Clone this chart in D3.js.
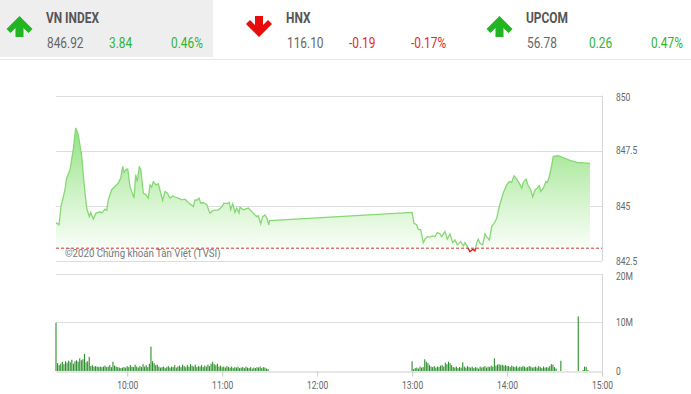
<!DOCTYPE html>
<html>
<head>
<meta charset="utf-8">
<script src="https://cdn.jsdelivr.net/npm/d3@7"></script>
<style>
body { margin: 0; background: #fff; }
svg { display: block; font-family: Roboto, "Noto Sans", sans-serif; }
</style>
</head>
<body>
<svg id="chart" width="691" height="394"></svg>
<script>
// header indices
const indexNames = ["VN INDEX", "HNX", "UPCOM"];
const indexValues = ["846.92", "116.10", "56.78"];
const indexChanges = ["3.84", "-0.19", "0.26"];
const indexPcts = ["0.46%", "-0.17%", "0.47%"];
const indexUp = [true, false, true];

// intraday VN-Index
const refPrice = 843.08;
const priceTimes = [
	"09:15:00", "09:16:54", "09:18:10", "09:20:40", "09:21:46", "09:23:51", "09:25:56", "09:27:27",
	"09:29:05", "09:31:14", "09:32:53", "09:34:24", "09:36:02", "09:36:56", "09:38:34", "09:40:16",
	"09:42:48", "09:43:53", "09:45:58", "09:47:02", "09:48:03", "09:50:12", "09:54:22", "09:55:53",
	"09:57:09", "09:57:58", "09:59:14", "10:00:18", "10:01:46", "10:04:17", "10:05:22", "10:06:22",
	"10:07:38", "10:08:31", "10:10:10", "10:11:52", "10:13:19", "10:14:24", "10:15:28", "10:16:29",
	"10:18:11", "10:19:38", "10:21:10", "10:22:25", "10:23:52", "10:25:20", "10:27:02", "10:28:44",
	"10:30:11", "10:32:17", "10:34:26", "10:36:31", "10:38:36", "10:41:46", "10:42:50", "10:43:54",
	"10:45:22", "10:46:26", "10:48:04", "10:50:13", "10:52:18", "10:54:23", "10:57:33", "10:59:42",
	"11:01:09", "11:03:14", "11:04:30", "11:05:23", "11:06:39", "11:08:06", "11:09:11", "11:10:38",
	"11:11:16", "11:13:21", "11:16:31", "11:19:40", "11:21:49", "11:22:50", "11:24:21", "11:25:37",
	"11:27:04", "11:28:31", "11:29:24", "11:30:00",
	"13:00:00", "13:01:12", "13:02:54", "13:03:54", "13:05:27", "13:07:05", "13:08:10", "13:09:36",
	"13:11:18", "13:13:00", "13:14:28", "13:15:55", "13:17:36", "13:18:42", "13:20:48", "13:22:12",
	"13:23:58", "13:25:40", "13:27:06", "13:28:36", "13:30:42", "13:32:24", "13:33:24", "13:34:54",
	"13:36:36", "13:38:18", "13:39:42", "13:40:48", "13:41:48", "13:42:54", "13:44:36", "13:46:04",
	"13:47:06", "13:48:48", "13:50:18", "13:51:48", "13:53:30", "13:55:06", "13:57:36", "13:59:48",
	"14:01:24", "14:02:54", "14:04:24", "14:06:06", "14:07:42", "14:09:18", "14:10:18", "14:12:00",
	"14:13:24", "14:14:57", "14:16:12", "14:17:42", "14:19:06", "14:20:24", "14:21:18", "14:22:54",
	"14:24:36", "14:25:24", "14:26:42", "14:28:12", "14:29:12", "14:32:24", "14:34:30", "14:39:48",
	"14:44:00", "14:52:24"
];
const priceValues = [
	844.24, 844.14, 844.97, 845.73, 846.26, 846.64, 847.55, 848.53,
	848.23, 847.24, 845.88, 844.89, 844.51, 844.70, 844.40, 844.67,
	844.73, 844.67, 844.85, 844.80, 845.27, 845.73, 846.03, 846.26,
	846.79, 846.51, 846.64, 846.67, 845.88, 845.35, 846.41, 846.10,
	846.76, 846.67, 845.58, 845.50, 845.35, 845.95, 845.85, 846.10,
	845.95, 846.00, 845.58, 845.24, 845.65, 845.58, 845.35, 845.45,
	845.40, 845.35, 845.27, 845.30, 845.15, 844.97, 845.27, 845.25,
	845.35, 845.12, 845.15, 845.05, 844.67, 844.79, 844.82, 844.94,
	845.12, 845.10, 845.15, 844.82, 845.09, 844.70, 844.90, 844.67,
	844.94, 844.82, 844.90, 844.67, 844.51, 844.55, 844.18, 844.51,
	844.59, 844.40, 844.14, 844.33,
	844.70, 844.21, 844.14, 843.94, 843.91, 843.33, 843.49, 843.60,
	843.58, 843.64, 843.60, 843.79, 843.73, 843.60, 843.83, 843.49,
	843.73, 843.33, 843.45, 843.23, 843.38, 843.18, 843.33, 843.15,
	842.92, 843.03, 842.96, 843.30, 843.49, 843.30, 843.23, 843.73,
	843.60, 843.45, 844.06, 844.21, 844.44, 844.97, 845.58, 845.95,
	846.10, 846.06, 846.36, 846.21, 846.03, 845.80, 846.06, 846.21,
	845.91, 845.73, 845.40, 845.73, 845.80, 845.91, 845.65, 845.80,
	846.10, 846.06, 846.33, 846.82, 847.24, 847.27, 847.21, 847.06,
	846.97, 846.92
];

// volume per minute, millions of shares
const volStartAM = "09:15:00";
const volAM = [
	9.9,
	1.6, 1.2, 1.5, 1.9, 1.4, 2.0, 1.7, 2.1, 1.8, 2.3, 1.5, 2.0, 2.2,
	1.9, 2.6, 2.2, 2.4, 3.5, 1.8, 2.0, 2.9,
	1.0, 1.2, 0.9, 1.0, 0.9, 0.8, 0.9, 0.8, 0.9, 1.1, 0.8, 0.9, 1.2, 0.8,
	1.9,
	1.1, 0.9, 0.8, 0.7, 0.6, 0.7, 0.8, 0.7, 1.0, 0.8, 1.2, 0.9, 0.8, 1.3, 0.9, 0.7, 1.0, 0.8, 1.4, 0.9, 1.2, 0.8, 1.5,
	5.0,
	2.0, 1.6, 1.2, 1.3, 0.9, 0.7, 0.8, 0.9, 0.6, 0.8,
	1.0, 0.7, 0.9, 0.8, 1.2, 0.7, 0.9, 1.1, 0.8, 1.3, 1.0, 0.8, 1.2, 0.9, 1.4, 1.1, 0.9, 1.3, 0.8, 1.0,
	0.9, 1.2, 0.8, 1.1, 0.9, 1.3, 1.0, 1.5,
	1.9,
	1.4, 1.2, 1.5, 0.9, 1.1, 0.8, 0.9, 0.7, 1.0, 0.8, 0.7, 0.9, 0.6, 0.8, 0.7, 0.9, 0.6, 0.7, 0.8, 0.6,
	0.9, 0.7, 0.6, 0.8, 0.5, 0.7, 0.6, 0.8, 0.7, 0.9, 0.6, 0.8, 0.7, 0.5, 0.4
];
const volStartPM = "13:00:00";
const volPM = [
	2.0, 0.4, 0.6, 0.7, 0.5, 0.9, 0.7, 0.8,
	2.4, 1.9, 1.6, 1.2,
	0.9, 0.8, 1.0, 0.7, 0.9, 0.8, 1.1,
	1.2, 0.9, 1.7, 1.4, 1.9, 1.6, 1.2,
	0.8, 0.7, 0.9, 0.6, 0.8, 0.7,
	1.8,
	0.9, 0.7, 1.0, 0.8, 0.7, 0.9, 0.6, 0.8, 0.7, 0.5, 0.9, 0.7, 0.8, 1.0, 0.7, 0.9, 0.8, 1.1, 0.9,
	2.6,
	1.1, 1.3, 1.4, 1.2, 1.3, 1.1, 1.2, 1.0,
	1.0, 0.8, 1.1, 0.9, 0.8, 1.0, 0.7, 0.9, 0.8, 1.0, 0.9, 0.7, 0.8, 1.0, 0.9, 0.7, 0.8, 0.9, 0.7, 1.0,
	0.8, 0.6, 0.9, 0.7, 0.8, 0.7, 1.0,
	1.4, 1.3, 0.8, 0.5, 0, 0,
	2.1,
	0, 0, 0, 0, 0, 0, 0, 0, 0, 0,
	11.2,
	0, 0, 0.2, 0.9, 0.8, 0.2
];

const priceTicks = [842.5, 845, 847.5, 850];
const volTicks = [0, 10, 20];
const volTickLabels = ["0", "10M", "20M"];
const hourTicks = ["10:00:00", "11:00:00", "12:00:00", "13:00:00", "14:00:00", "15:00:00"];

const SX = 0.85; // text looks horizontally squeezed in the source
const GREEN = "#2fb52f", RED = "#e02b2b";

const svg = d3.select("#chart");
const parse = d3.timeParse("%H:%M:%S");

// ---------- header ----------
svg.append("rect")
	.attr("x", 0).attr("y", 0).attr("width", 213).attr("height", 57)
	.attr("fill", "#eeeeee");
svg.append("line")
	.attr("x1", 0).attr("x2", 691).attr("y1", 59.5).attr("y2", 59.5)
	.attr("stroke", "#e6e6e6");

function sqText(g, x, y, txt) {
	return g.append("text")
		.attr("transform", `translate(${x},${y}) scale(${SX},1)`)
		.text(txt);
}

const upArrow = "M0,0 L13,13 L9,17 L4,12 L4,21 L-4,21 L-4,12 L-9,17 L-13,13 Z";

indexNames.forEach((name, i) => {
	const g = svg.append("g").attr("transform", `translate(${i * 240},0)`);
	const col = indexUp[i] ? GREEN : RED;
	g.append("path")
		.attr("d", upArrow)
		.attr("fill", indexUp[i] ? "#22b422" : "#e80c0c")
		.attr("transform", indexUp[i] ? "translate(19.5,16)" : "translate(19,37) scale(1,-1)");
	sqText(g, 46, 23, name)
		.attr("font-size", 14).attr("font-weight", "bold").attr("fill", "#555");
	sqText(g, 47, 48, indexValues[i]).attr("font-size", 14).attr("fill", "#666");
	sqText(g, 109, 48, indexChanges[i]).attr("font-size", 14).attr("fill", col);
	sqText(g, 171, 48, indexPcts[i]).attr("font-size", 14).attr("fill", col);
});

// ---------- scales ----------
const x = d3.scaleTime()
	.domain([parse("09:15:00"), parse("15:00:00")])
	.range([56, 602]);
const yP = d3.scaleLinear().domain([842.5, 850]).range([261, 95.5]);
const yV = d3.scaleLinear().domain([0, 20]).range([371, 273.5]);

const priceData = priceTimes.map((t, i) => ({ t: parse(t), v: priceValues[i] }));

// ---------- price panel ----------
const gP = svg.append("g");
gP.selectAll(".pgrid")
	.data(priceTicks)
	.enter().append("line")
	.attr("x1", 56).attr("x2", 602)
	.attr("y1", (d) => Math.round(yP(d)) + 0.5)
	.attr("y2", (d) => Math.round(yP(d)) + 0.5)
	.attr("stroke", "#dddddd");
gP.append("line")
	.attr("x1", 602.5).attr("x2", 602.5)
	.attr("y1", yP(850)).attr("y2", yP(842.5))
	.attr("stroke", "#d6d6d6");

const defs = svg.append("defs");
const grad = defs.append("linearGradient")
	.attr("id", "areaFill")
	.attr("gradientUnits", "userSpaceOnUse")
	.attr("x1", 0).attr("x2", 0)
	.attr("y1", yP(848.5)).attr("y2", yP(842.7));
grad.append("stop").attr("offset", 0).attr("stop-color", "#93e283");
grad.append("stop").attr("offset", 0.55).attr("stop-color", "#d3f4cb");
grad.append("stop").attr("offset", 1).attr("stop-color", "#ffffff");

defs.append("clipPath").attr("id", "aboveRef")
	.append("rect").attr("x", 0).attr("y", 0).attr("width", 691).attr("height", yP(refPrice));
defs.append("clipPath").attr("id", "belowRef")
	.append("rect").attr("x", 0).attr("y", yP(refPrice)).attr("width", 691).attr("height", 60);

const area = d3.area()
	.x((d) => x(d.t))
	.y0(yP(842.5))
	.y1((d) => yP(d.v));
const line = d3.line()
	.x((d) => x(d.t))
	.y((d) => yP(d.v));

gP.append("path").datum(priceData)
	.attr("d", area)
	.attr("fill", "url(#areaFill)");

gP.append("path").datum(priceData)
	.attr("d", line)
	.attr("fill", "none")
	.attr("stroke", "#86d874")
	.attr("stroke-width", 1.3)
	.attr("clip-path", "url(#aboveRef)");
gP.append("path").datum(priceData)
	.attr("d", line)
	.attr("fill", "none")
	.attr("stroke", "#e01010")
	.attr("stroke-width", 1.3)
	.attr("clip-path", "url(#belowRef)");

gP.append("line")
	.attr("x1", 56).attr("x2", 602)
	.attr("y1", yP(refPrice)).attr("y2", yP(refPrice))
	.attr("stroke", "#cc2222")
	.attr("stroke-width", 0.9)
	.attr("stroke-dasharray", "3,2");

sqText(gP, 65, 257, "©2020 Chứng khoán Tân Việt (TVSI)")
	.attr("font-size", 11.4).attr("fill", "#777");

const yAxisP = gP.append("g")
	.attr("transform", "translate(602,0)")
	.call(d3.axisRight(yP).tickValues(priceTicks).tickSize(0).tickFormat((d) => String(d)));
yAxisP.select(".domain").remove();
yAxisP.selectAll("text")
	.attr("x", 0)
	.attr("transform", (d) => `translate(14,${d === 850 ? 2 : 0}) scale(${SX},1)`)
	.attr("font-size", 10)
	.attr("font-family", "Roboto, sans-serif")
	.attr("fill", "#666");

// ---------- volume panel ----------
const gV = svg.append("g");
gV.selectAll(".vgrid")
	.data(volTicks.slice(1))
	.enter().append("line")
	.attr("x1", 56).attr("x2", 602)
	.attr("y1", (d) => Math.round(yV(d)) + 0.5)
	.attr("y2", (d) => Math.round(yV(d)) + 0.5)
	.attr("stroke", "#dddddd");
gV.append("line")
	.attr("x1", 602.5).attr("x2", 602.5)
	.attr("y1", yV(20)).attr("y2", yV(0))
	.attr("stroke", "#d6d6d6");

const volData = [];
volAM.forEach((v, i) => {
	if (v > 0) volData.push({ t: d3.timeMinute.offset(parse(volStartAM), i), v: v });
});
volPM.forEach((v, i) => {
	if (v > 0) volData.push({ t: d3.timeMinute.offset(parse(volStartPM), i), v: v });
});

gV.selectAll(".vbar")
	.data(volData)
	.enter().append("rect")
	.attr("class", "vbar")
	.attr("x", (d) => x(d.t) - 0.55)
	.attr("width", 1.1)
	.attr("y", (d) => yV(d.v))
	.attr("height", (d) => yV(0) - yV(d.v))
	.attr("fill", "#2e8f2e");

const xAxis = gV.append("g")
	.attr("transform", `translate(0,${Math.round(yV(0)) + 0.5})`)
	.call(d3.axisBottom(x)
		.tickValues(hourTicks.map(parse))
		.tickSize(5)
		.tickSizeOuter(0)
		.tickPadding(5)
		.tickFormat(d3.timeFormat("%H:%M")));
xAxis.select(".domain").attr("stroke", "#cccccc");
xAxis.selectAll(".tick line").attr("stroke", "#cccccc");
xAxis.selectAll("text")
	.attr("transform", `scale(${SX},1)`)
	.attr("font-size", 10)
	.attr("font-family", "Roboto, sans-serif")
	.attr("fill", "#666");

const yAxisV = gV.append("g")
	.attr("transform", "translate(602,0)")
	.call(d3.axisRight(yV).tickValues(volTicks).tickSize(0).tickFormat((d, i) => volTickLabels[i]));
yAxisV.select(".domain").remove();
yAxisV.selectAll("text")
	.attr("x", 0)
	.attr("transform", (d) => `translate(14,${d === 20 ? 3 : 0}) scale(${SX},1)`)
	.attr("font-size", 10)
	.attr("font-family", "Roboto, sans-serif")
	.attr("fill", "#666");
</script>
</body>
</html>
